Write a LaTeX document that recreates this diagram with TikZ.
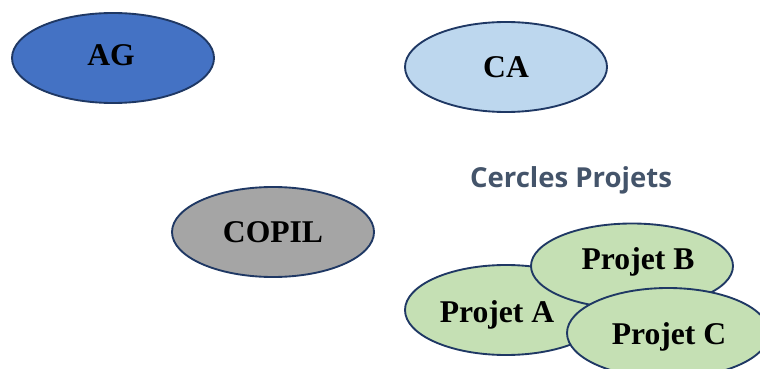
\documentclass[tikz,border=0pt]{standalone}
\usepackage{fontspec}
\setmainfont{Liberation Serif}
\newfontfamily\titlefont{Open Sans}
\usetikzlibrary{shapes.geometric}
\usetikzlibrary{positioning}

\definecolor{rim}{HTML}{1F3864}
\definecolor{agblue}{HTML}{4472C4}
\definecolor{cablue}{HTML}{BDD7EE}
\definecolor{copilgrey}{HTML}{A5A5A5}
\definecolor{projgreen}{HTML}{C5E0B4}
\definecolor{titlegrey}{HTML}{44546A}

\tikzset{
  organtext/.style={font=\fontsize{27}{30}\selectfont\bfseries},
  organ/.style={ellipse, draw=rim, line width=1.6pt, inner sep=0pt,
    minimum width=6.06cm, minimum height=2.7cm, organtext},
  projet/.style={organ, fill=projgreen}
}

\begin{document}
\begin{tikzpicture}[x=0.03cm, y=-0.03cm]
  \useasboundingbox (0,0) rectangle (760,369);

  \node[organ, fill=agblue] (ag) at (113,58) {};
  \node[organtext] (agtext) at ([shift={(-2,-3)}]ag.center) {AG};
  \node[organ, fill=cablue] (ca) at (506,67) {CA};
  \node[organ, fill=copilgrey] (copil) at (273,232) {COPIL};

  \node[text=titlegrey, font=\titlefont\fontsize{23.5}{28}\selectfont\bfseries] (cercles) at (571,180) {Cercles Projets};

  \node[projet] (pa) at (506,310) {};
  \node[organtext] (patext) at ([shift={(-9,5)}]pa.center) {Projet A};
  \node[projet, minimum height=2.55cm] (pb) at (632,266) {};
  \node[organtext] (pbtext) at ([shift={(6,-4)}]pb.center) {Projet B};
  \node[projet] (pc) at (668,333) {};
  \node[organtext] (pctext) at ([shift={(1,4)}]pc.center) {Projet C};

\end{tikzpicture}
\end{document}
